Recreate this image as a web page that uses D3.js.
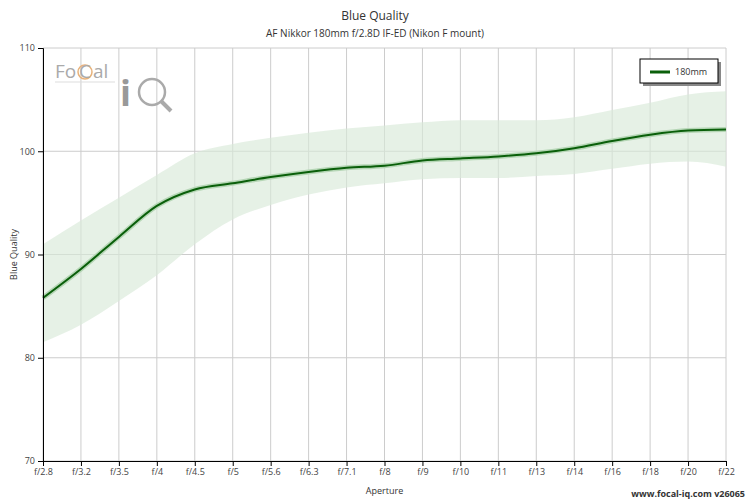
<!DOCTYPE html>
<html><head><meta charset="utf-8">
<script src="https://cdn.jsdelivr.net/npm/d3@7"></script>
<style>body{margin:0;background:#fff}svg{font-family:"Open Sans",sans-serif}</style>
</head><body><svg id="c" width="750" height="500"></svg>
<script>
const apertures=["f/2.8","f/3.2","f/3.5","f/4","f/4.5","f/5","f/5.6","f/6.3","f/7.1","f/8","f/9","f/10","f/11","f/13","f/14","f/16","f/18","f/20","f/22"];
const quality=[85.8,88.6,91.7,94.7,96.3,96.9,97.5,98.0,98.4,98.6,99.1,99.3,99.5,99.8,100.3,101.0,101.6,102.0,102.1];
const upper=[91.0,93.3,95.5,97.7,99.8,100.7,101.3,101.8,102.2,102.5,102.8,103.0,103.0,103.0,103.3,104.0,104.7,105.5,105.8];
const lower=[81.5,83.2,85.5,88.0,91.0,93.4,94.8,95.8,96.5,96.9,97.3,97.4,97.4,97.6,97.8,98.3,98.8,99.0,98.5];
const yTicks=[70,80,90,100,110];

const svg=d3.select("#c");
const L=43,R=726,T=48,B=461;
const x=d3.scalePoint().domain(apertures).range([L,R]);
const y=d3.scaleLinear().domain([70,110]).range([B,T]);
const g=svg.append("g");
// grid
g.selectAll(".vg").data(apertures).join("line").attr("x1",d=>x(d)).attr("x2",d=>x(d)).attr("y1",T).attr("y2",B).attr("stroke","#ccc");
g.selectAll(".hg").data(yTicks).join("line").attr("x1",L).attr("x2",R).attr("y1",d=>y(d)).attr("y2",d=>y(d)).attr("stroke","#ccc");
// logo
const lg=svg.append("g");
lg.append("text").attr("x",55).attr("y",78).attr("font-size",19).attr("fill","#aaa").text("Fo");
lg.append("circle").attr("cx",85).attr("cy",72).attr("r",7).attr("fill","none").attr("stroke","#e8b27a").attr("stroke-width",1.5);
lg.append("text").attr("x",79).attr("y",78).attr("font-size",19).attr("fill","#aaa").text("C");
lg.append("text").attr("x",93).attr("y",78).attr("font-size",19).attr("fill","#aaa").text("al");
lg.append("line").attr("x1",55).attr("x2",115).attr("y1",82).attr("y2",82).attr("stroke","#ddd");
lg.append("text").attr("x",120).attr("y",106).attr("font-size",36).attr("font-weight","bold").attr("fill","#999").text("i");
lg.append("circle").attr("cx",152).attr("cy",92).attr("r",13).attr("fill","none").attr("stroke","#aaa").attr("stroke-width",2.5);
lg.append("line").attr("x1",161).attr("y1",101).attr("x2",171).attr("y2",111).attr("stroke","#aaa").attr("stroke-width",4);
// band
const idx=d3.range(apertures.length);
svg.append("path").attr("d",d3.area().curve(d3.curveMonotoneX).x(i=>x(apertures[i])).y0(i=>y(lower[i])).y1(i=>y(upper[i]))(idx)).attr("fill","#d8ead8").attr("opacity",0.65);
svg.append("path").attr("d",d3.line().curve(d3.curveMonotoneX).x(i=>x(apertures[i])).y(i=>y(quality[i]))(idx)).attr("fill","none").attr("stroke","#b5d6b5").attr("stroke-width",5);
svg.append("path").attr("d",d3.line().curve(d3.curveMonotoneX).x(i=>x(apertures[i])).y(i=>y(quality[i]))(idx)).attr("fill","none").attr("stroke","#0a5f0a").attr("stroke-width",2);
// axes
const xa=svg.append("g").attr("transform",`translate(0,${B})`).call(d3.axisBottom(x).tickSize(5));
const ya=svg.append("g").attr("transform",`translate(${L},0)`).call(d3.axisLeft(y).tickValues(yTicks).tickSize(5));
[xa,ya].forEach(a=>{a.selectAll("text").attr("font-size",9).attr("fill","#444").style("font-family","Open Sans");a.select(".domain").attr("stroke","#000");a.selectAll(".tick line").attr("stroke","#000");});
ya.selectAll("text").attr("font-size",9);
svg.append("text").attr("x",375).attr("y",20).attr("text-anchor","middle").attr("font-size",12).attr("fill","#333").text("Blue Quality");
svg.append("text").attr("x",375).attr("y",37).attr("text-anchor","middle").attr("font-size",10).attr("fill","#333").text("AF Nikkor 180mm f/2.8D IF-ED (Nikon F mount)");
svg.append("text").attr("x",(L+R)/2).attr("y",494).attr("text-anchor","middle").attr("font-size",9).attr("fill","#333").text("Aperture");
svg.append("text").attr("transform",`translate(17,${(T+B)/2}) rotate(-90)`).attr("text-anchor","middle").attr("font-size",9).attr("fill","#333").text("Blue Quality");
svg.append("text").attr("x",745).attr("y",497).attr("text-anchor","end").attr("font-size",9).attr("font-weight","bold").attr("fill","#333").text("www.focal-iq.com  v26065");
// legend
svg.append("rect").attr("x",643).attr("y",62).attr("width",78).attr("height",24).attr("fill","#888");
svg.append("rect").attr("x",640).attr("y",59).attr("width",78).attr("height",24).attr("fill","#fff").attr("stroke","#000");
svg.append("line").attr("x1",650).attr("x2",670).attr("y1",72).attr("y2",72).attr("stroke","#0a5f0a").attr("stroke-width",3);
svg.append("text").attr("x",675).attr("y",75).attr("font-size",9).attr("fill","#333").text("180mm");
</script></body></html>
